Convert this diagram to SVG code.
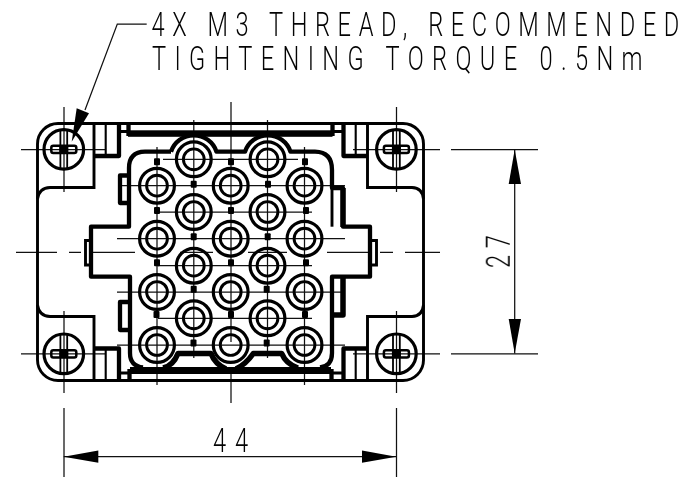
<svg xmlns="http://www.w3.org/2000/svg" width="684" height="477" viewBox="0 0 684 477">
<style>
.c{fill:none;stroke:#111;stroke-width:1.25}
.t{fill:none;stroke:#000;stroke-width:2.9}
.n{fill:none;stroke:#000;stroke-width:2.1}
.m{fill:none;stroke:#000;stroke-width:4.3;stroke-linejoin:round}
.k{fill:none;stroke:#000;stroke-width:5.5;stroke-linejoin:round}
.a{fill:#000}
.l{font-family:Roboto,"Liberation Sans",sans-serif;font-weight:300;font-size:26px;fill:#000}
</style>
<defs>
<g id="screw">
<circle r="19.800" fill="none" stroke="#000" stroke-width="3.2"/>
<path d="M-3.4-20.5V20.5M3.4-20.5V20.5" fill="none" stroke="#000" stroke-width="1.8"/>
<rect x="-12.5" y="-3.6" width="25" height="7.200" rx="2" fill="none" stroke="#000" stroke-width="2.5"/>
<rect x="-4.500" y="-3.6" width="9" height="7.200" fill="#000"/>
</g>
<g id="pin">
<circle r="17.400" fill="none" stroke="#000" stroke-width="3.2"/>
<circle r="10.400" fill="none" stroke="#000" stroke-width="2.9"/>
</g>
<rect id="mk" x="-3" y="-3.5" width="6" height="7" rx="1" fill="#000"/>
</defs>

<g id="connectors">
<path class="c" d="M64 107V192M64 311V393M64 408V477M396.500 107V192M396.500 311V393M396.500 408V477"/>
<path class="c" d="M231 102V342M231 370V403M193.800 120V358M267.500 120V358M157 147V385M304.500 147V385"/>
<path class="c" d="M21 149.500H105M353 149.500H440M451 149.500H538M21 353.800H105M353 353.800H440M451 353.800H538"/>
<path class="c" d="M163 159.300H298M120 185.700H345M158 212H312M117 238.700H345M158 265.700H312M117 292H345M158 318.300H312M117 345H345"/>
<path class="c" d="M16 252.300H57M69 252.300H81M93 252.300H135M180 252.300H213M248 252.300H287M327 252.300H368M380 252.300H393M405 252.300H440"/>
<path class="c" d="M146.700 24H117.300L85 110"/>
<polygon class="a" points="71.700,141.700 76.700,108.300 89,113.300"/>
<path class="c" d="M514.700 149.500V353.500M63.700 456.700H396.300"/>
<polygon class="a" points="514.700,149.500 508.700,184 521,184"/>
<polygon class="a" points="514.700,353.500 508.700,319 521,319"/>
<polygon class="a" points="63.700,456.700 98.300,450.400 98.300,462.800"/>
<polygon class="a" points="396.300,456.700 362,450.400 362,462.800"/>
</g>

<g id="housing">
<rect class="t" x="37.500" y="123.500" width="386" height="257" rx="20.500"/>
<path class="t" d="M94 123.500V187.500H50Q39 188 37.500 199M367.500 123.500V187.500H412Q422.500 188 423.500 199"/>
<path class="t" d="M94 380.500V316.500H50Q39 316 37.500 305M367.500 380.500V316.500H412Q422.500 316 423.500 305"/>
<path class="n" d="M105.700 123.500V156M355.700 123.500V156M105.700 349V380.500M355.700 349V380.500"/>
<path class="m" d="M94 156H119V124M367.500 156H343.500V124M94 348.500H119V380M367.500 348.500H343.500V380"/>
<path class="t" d="M119 131.500H128M333 131.500H343M119 373H128M333 373H343"/>
<path class="m" d="M128.500 123.500V136M332.500 123.500V136M129.500 369V380.500M331.500 369V380.500"/>
<rect class="a" x="128" y="130.300" width="204.500" height="6.500"/>
<rect class="a" x="130" y="367" width="201" height="7"/>
</g>

<g id="insert">
<path class="m" d="M171 151.700A24 24 0 0 1 216.500 151.700H245A24 24 0 0 1 290.500 151.700H315Q332 152 332 170V188H343V226.700H370V276.700H332V353Q332 366 320 367.500"/>
<path class="m" d="M171 151.700H145Q129 152 129 168V226.700H91V276.700H130V353Q130 366 143 367.500"/>
<path class="k" d="M163 368Q173 366 178 353.500H211Q215 364 226 369M236 369Q246 364 253.300 353.500H281.700Q286 364 298 368"/>
<path class="t" d="M332 188V226.700"/>
<path class="k" d="M343 188V227M343 278V315H333"/>
<path class="m" d="M129 175.500H120V203H129M129 302H120V330H129"/>
<path class="t" d="M91 240.500H85.500V265H91M371 240.500H376.500V265H371"/>
</g>

<g id="screw-tl"><use href="#screw" x="63.800" y="149.400"/></g>
<g id="screw-tr"><use href="#screw" x="396.400" y="149.400"/></g>
<g id="screw-bl"><use href="#screw" x="63.800" y="353.800"/></g>
<g id="screw-br"><use href="#screw" x="396.400" y="353.800"/></g>

<g id="pins">
<use href="#pin" x="193.800" y="159.300"/><use href="#pin" x="267.500" y="159.300"/>
<use href="#pin" x="157" y="185.700"/><use href="#pin" x="230.700" y="185.700"/><use href="#pin" x="304.500" y="185.700"/>
<use href="#pin" x="193.800" y="212"/><use href="#pin" x="267.500" y="212"/>
<use href="#pin" x="157" y="238.700"/><use href="#pin" x="230.700" y="238.700"/><use href="#pin" x="304.500" y="238.700"/>
<use href="#pin" x="193.800" y="265.700"/><use href="#pin" x="267.500" y="265.700"/>
<use href="#pin" x="157" y="292"/><use href="#pin" x="230.700" y="292"/><use href="#pin" x="304.500" y="292"/>
<use href="#pin" x="193.800" y="318.300"/><use href="#pin" x="267.500" y="318.300"/>
<use href="#pin" x="157" y="345"/><use href="#pin" x="230.700" y="345"/><use href="#pin" x="304.500" y="345"/>
</g>

<g id="pin-marks">
<use href="#mk" x="157" y="161.700"/><use href="#mk" x="231" y="161.700"/><use href="#mk" x="305" y="161.700"/>
<use href="#mk" x="193.700" y="184.300"/><use href="#mk" x="268" y="184.300"/>
<use href="#mk" x="157" y="210.500"/><use href="#mk" x="231" y="210.500"/><use href="#mk" x="306" y="210.500"/>
<use href="#mk" x="193.700" y="236.700"/><use href="#mk" x="267.700" y="236.700"/>
<use href="#mk" x="157" y="262.700"/><use href="#mk" x="231" y="262.700"/><use href="#mk" x="306" y="262.700"/>
<use href="#mk" x="193.700" y="289.300"/><use href="#mk" x="266.700" y="289.300"/>
<use href="#mk" x="156.500" y="314.500"/><use href="#mk" x="231" y="314.500"/><use href="#mk" x="305" y="314.500"/>
<use href="#mk" x="193.500" y="343"/><use href="#mk" x="266.700" y="343"/>
</g>

<g id="labels" opacity=".99">
<text class="l" transform="translate(151.500 36) scale(.91 1.27)" textLength="580" lengthAdjust="spacing">4X M3 THREAD, RECOMMENDED</text>
<text class="l" transform="translate(152 70) scale(.91 1.27)" textLength="539" lengthAdjust="spacing">TIGHTENING TORQUE 0.5Nm</text>
<text class="l" transform="translate(509.500 268) rotate(-90) scale(.91 1.27)" textLength="36" lengthAdjust="spacing">27</text>
<text class="l" transform="translate(213 452) scale(.91 1.27)" textLength="38.500" lengthAdjust="spacing">44</text>
</g>
</svg>
